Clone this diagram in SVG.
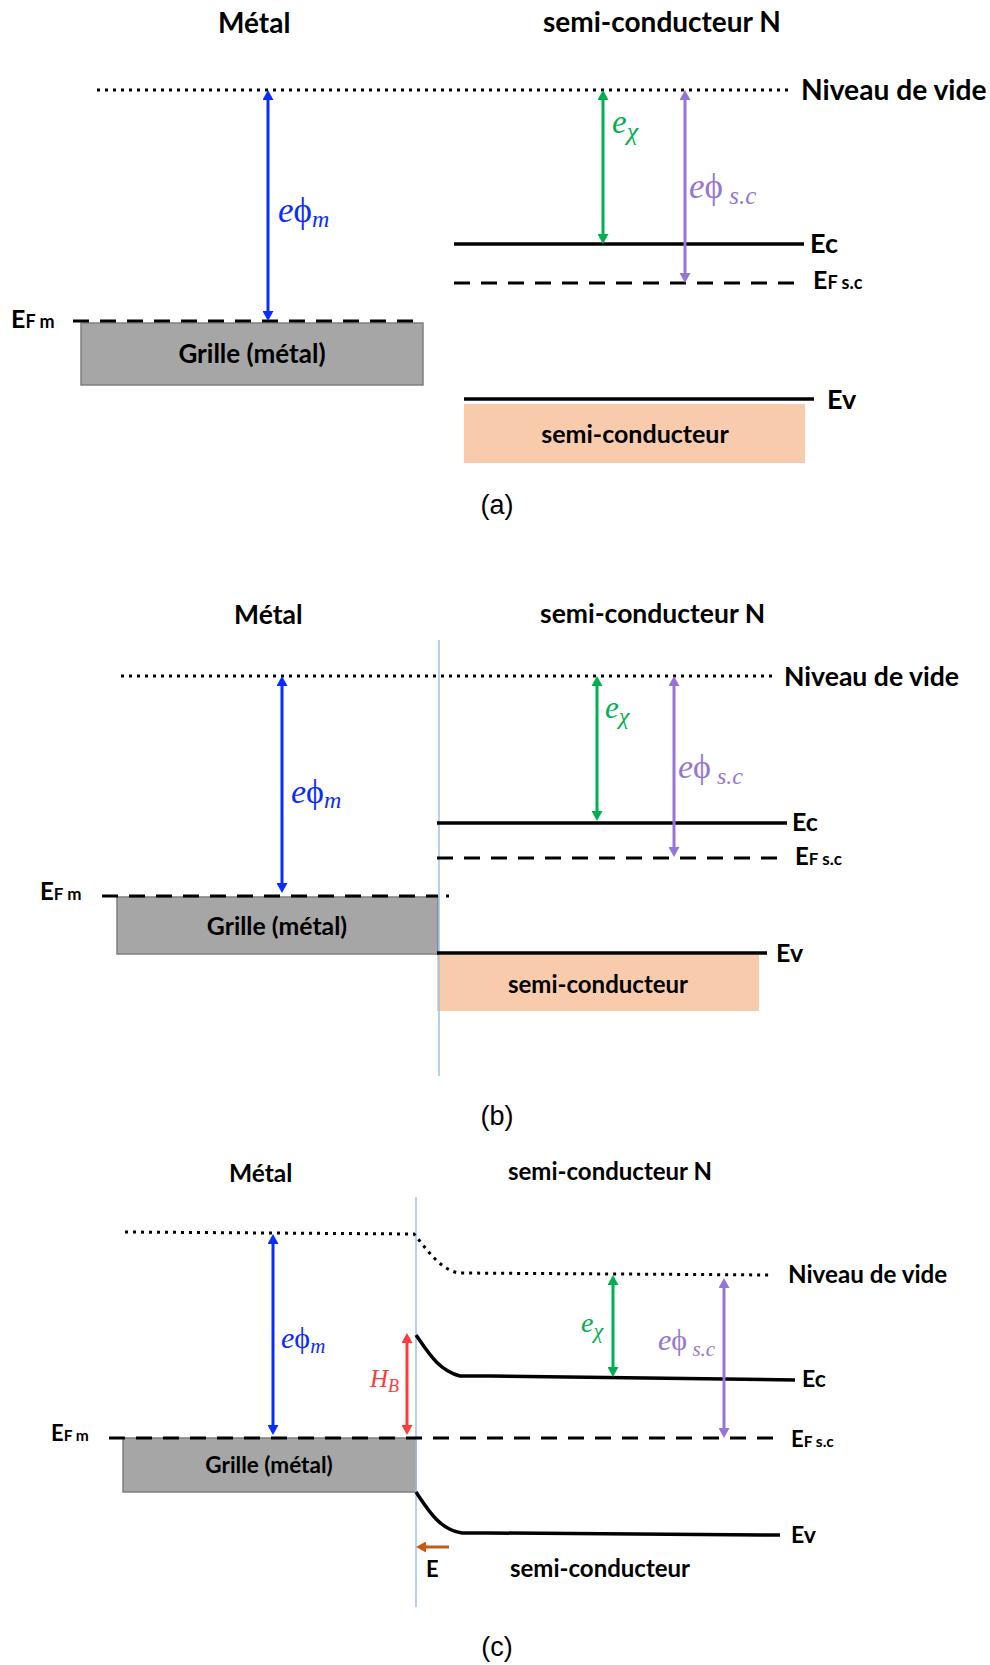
<svg xmlns="http://www.w3.org/2000/svg" width="990" height="1665" viewBox="0 0 990 1665">
<style>
.t{font-family:Lato,'Liberation Sans',sans-serif;font-weight:bold;fill:#000}
.m{font-family:'Liberation Serif','DejaVu Serif',serif;font-style:italic}
.u{font-style:normal}
.cap{font-family:'Liberation Sans',Arial,sans-serif;font-size:27px;fill:#000}
.dot{stroke:#000;stroke-width:3;stroke-dasharray:3 5;fill:none}
.dash{stroke:#000;stroke-width:3;stroke-dasharray:16 11;fill:none}
.band{stroke:#000;stroke-width:3.5;fill:none}
.iface{stroke:#9DC3E6;stroke-width:1.5}
.metal{fill:#A6A6A6;stroke:#7F7F7F;stroke-width:1.5}
.sc{fill:#F8CBAD}
.ab{stroke:#0A2CFF;stroke-width:3;marker-start:url(#mB);marker-end:url(#mB)}
.ag{stroke:#00B050;stroke-width:3;marker-start:url(#mG);marker-end:url(#mG)}
.ap{stroke:#9775D6;stroke-width:3;marker-start:url(#mP);marker-end:url(#mP)}
.ar{stroke:#FF3B3B;stroke-width:3;marker-start:url(#mR);marker-end:url(#mR)}
.ao{stroke:#C55A11;stroke-width:3;marker-end:url(#mO)}
</style>
<defs>
<marker id="mB" viewBox="0 0 10 10" refX="2" refY="5" markerWidth="10" markerHeight="11" markerUnits="userSpaceOnUse" orient="auto-start-reverse" preserveAspectRatio="none"><path d="M0,0 L10,5 L0,10 z" fill="#0A2CFF"/></marker>
<marker id="mG" viewBox="0 0 10 10" refX="2" refY="5" markerWidth="10" markerHeight="11" markerUnits="userSpaceOnUse" orient="auto-start-reverse" preserveAspectRatio="none"><path d="M0,0 L10,5 L0,10 z" fill="#00B050"/></marker>
<marker id="mP" viewBox="0 0 10 10" refX="2" refY="5" markerWidth="10" markerHeight="11" markerUnits="userSpaceOnUse" orient="auto-start-reverse" preserveAspectRatio="none"><path d="M0,0 L10,5 L0,10 z" fill="#9775D6"/></marker>
<marker id="mR" viewBox="0 0 10 10" refX="2" refY="5" markerWidth="10" markerHeight="11" markerUnits="userSpaceOnUse" orient="auto-start-reverse" preserveAspectRatio="none"><path d="M0,0 L10,5 L0,10 z" fill="#FF3B3B"/></marker>
<marker id="mO" viewBox="0 0 10 10" refX="2" refY="5" markerWidth="10" markerHeight="11" markerUnits="userSpaceOnUse" orient="auto" preserveAspectRatio="none"><path d="M0,0 L10,5 L0,10 z" fill="#C55A11"/></marker>
</defs>
<rect width="990" height="1665" fill="#fff"/>

<!-- ================= Panel (a) ================= -->
<g id="panel-a">
  <g id="a-titles">
    <text class="t" x="218" y="33" font-size="28">Métal</text>
    <text class="t" x="543" y="32" font-size="28">semi-conducteur N</text>
  </g>
  <g id="a-metal">
    <rect class="metal" x="81" y="323" width="342" height="62"/>
    <text class="t" x="252" y="363" font-size="26" text-anchor="middle">Grille (métal)</text>
  </g>
  <g id="a-semi">
    <rect class="sc" x="464" y="404" width="341" height="59"/>
    <text class="t" x="635" y="443" font-size="25" text-anchor="middle">semi-conducteur</text>
  </g>
  <g id="a-levels">
    <path class="dot" d="M97,90 H791"/>
    <path class="dash" d="M73,321 H423"/>
    <path class="band" d="M454,244 H804"/>
    <path class="dash" d="M454,283 H804"/>
    <path class="band" d="M464,399 H814"/>
  </g>
  <g id="a-level-labels">
    <text class="t" x="801" y="100" font-size="28.2">Niveau de vide</text>
    <text class="t" x="11" y="328"><tspan font-size="25">E</tspan><tspan font-size="18">F m</tspan></text>
    <text class="t" x="810" y="253" font-size="27">Ec</text>
    <text class="t" x="813" y="289"><tspan font-size="25">E</tspan><tspan font-size="18">F s.c</tspan></text>
    <text class="t" x="827" y="409" font-size="27">Ev</text>
  </g>
  <g id="a-arrows">
    <line class="ab" x1="268" y1="98" x2="268" y2="313"/>
    <line class="ag" x1="603" y1="98" x2="603" y2="236"/>
    <line class="ap" x1="685" y1="98" x2="685" y2="275"/>
  </g>
  <g id="a-arrow-labels">
    <text class="m" x="278" y="222" font-size="35" fill="#0A2CFF">e<tspan class="u">ϕ</tspan><tspan font-size="24" dy="5">m</tspan></text>
    <text class="m" x="612" y="133" font-size="33" fill="#00B050">e<tspan font-size="26" dy="7">χ</tspan></text>
    <text class="m" x="689" y="198" font-size="35" fill="#9775D6">e<tspan class="u">ϕ</tspan><tspan font-size="25" dy="6"> s.c</tspan></text>
  </g>
  <text class="cap" x="497" y="514" text-anchor="middle">(a)</text>
</g>

<!-- ================= Panel (b) ================= -->
<g id="panel-b">
  <g id="b-titles">
    <text class="t" x="234" y="624" font-size="26.5">Métal</text>
    <text class="t" x="540" y="623" font-size="26.5">semi-conducteur N</text>
  </g>
  <g id="b-metal">
    <rect class="metal" x="117" y="897" width="321" height="57"/>
    <text class="t" x="277" y="935" font-size="24.8" text-anchor="middle">Grille (métal)</text>
  </g>
  <g id="b-semi">
    <rect class="sc" x="437" y="955" width="322" height="56"/>
    <text class="t" x="598" y="993" font-size="24" text-anchor="middle">semi-conducteur</text>
  </g>
  <line class="iface" x1="439" y1="640" x2="439" y2="1076"/>
  <g id="b-levels">
    <path class="dot" d="M121,676 H777"/>
    <path class="dash" d="M102,896 H438 M446,896 H449"/>
    <path class="band" d="M437,823 H787"/>
    <path class="dash" d="M437,858 H785"/>
    <path class="band" d="M437,953 H767"/>
  </g>
  <g id="b-level-labels">
    <text class="t" x="784" y="686" font-size="26.6">Niveau de vide</text>
    <text class="t" x="40" y="900"><tspan font-size="24">E</tspan><tspan font-size="17">F m</tspan></text>
    <text class="t" x="792" y="831" font-size="25">Ec</text>
    <text class="t" x="795" y="865"><tspan font-size="24">E</tspan><tspan font-size="17">F s.c</tspan></text>
    <text class="t" x="776" y="962" font-size="25">Ev</text>
  </g>
  <g id="b-arrows">
    <line class="ab" x1="282" y1="684" x2="282" y2="885"/>
    <line class="ag" x1="597" y1="684" x2="597" y2="813"/>
    <line class="ap" x1="674" y1="684" x2="674" y2="849"/>
  </g>
  <g id="b-arrow-labels">
    <text class="m" x="291" y="803" font-size="34" fill="#0A2CFF">e<tspan class="u">ϕ</tspan><tspan font-size="24" dy="5">m</tspan></text>
    <text class="m" x="605" y="718" font-size="31" fill="#00B050">e<tspan font-size="24" dy="6">χ</tspan></text>
    <text class="m" x="678" y="778" font-size="34" fill="#9775D6">e<tspan class="u">ϕ</tspan><tspan font-size="24" dy="6"> s.c</tspan></text>
  </g>
  <text class="cap" x="497" y="1125" text-anchor="middle">(b)</text>
</g>

<!-- ================= Panel (c) ================= -->
<g id="panel-c">
  <g id="c-titles">
    <text class="t" x="229" y="1182" font-size="24.5">Métal</text>
    <text class="t" x="508" y="1180" font-size="24">semi-conducteur N</text>
  </g>
  <g id="c-metal">
    <rect class="metal" x="123" y="1438" width="293" height="54"/>
    <text class="t" x="269" y="1473" font-size="22.5" text-anchor="middle">Grille (métal)</text>
  </g>
  <line class="iface" x1="416" y1="1197" x2="416" y2="1607"/>
  <g id="c-levels">
    <path class="dot" d="M125,1232 L414,1234 C426,1248 438,1268 458,1273 L771,1275"/>
    <path class="dash" d="M109,1438 H784"/>
    <path class="band" d="M416,1335 C428,1352 438,1370 460,1376 L490,1376 L795,1380"/>
    <path class="band" d="M416,1492 C428,1510 440,1530 462,1533 L490,1533 L780,1535"/>
  </g>
  <g id="c-level-labels">
    <text class="t" x="788" y="1283" font-size="24.2">Niveau de vide</text>
    <text class="t" x="51" y="1441"><tspan font-size="22">E</tspan><tspan font-size="15.5">F m</tspan></text>
    <text class="t" x="802" y="1387" font-size="23">Ec</text>
    <text class="t" x="791" y="1447"><tspan font-size="22">E</tspan><tspan font-size="15.5">F s.c</tspan></text>
    <text class="t" x="791" y="1543" font-size="23">Ev</text>
    <text class="t" x="510" y="1577" font-size="24">semi-conducteur</text>
  </g>
  <g id="c-arrows">
    <line class="ab" x1="273" y1="1242" x2="273" y2="1427"/>
    <line class="ar" x1="407" y1="1341" x2="407" y2="1427"/>
    <line class="ag" x1="613" y1="1283" x2="613" y2="1369"/>
    <line class="ap" x1="724" y1="1286" x2="724" y2="1430"/>
    <line class="ao" x1="449" y1="1547" x2="424" y2="1547"/>
  </g>
  <g id="c-arrow-labels">
    <text class="m" x="281" y="1348" font-size="30" fill="#0A2CFF">e<tspan class="u">ϕ</tspan><tspan font-size="21" dy="5">m</tspan></text>
    <text class="m" x="370" y="1387" font-size="25" fill="#FF3B3B">H<tspan font-size="18" dy="5">B</tspan></text>
    <text class="m" x="581" y="1332" font-size="28" fill="#00B050">e<tspan font-size="22" dy="6">χ</tspan></text>
    <text class="m" x="658" y="1350" font-size="30" fill="#9775D6">e<tspan class="u">ϕ</tspan><tspan font-size="21" dy="6"> s.c</tspan></text>
    <text class="t" x="426" y="1577" font-size="22" fill="#C55A11">E</text>
  </g>
  <text class="cap" x="497" y="1656" font-size="26" text-anchor="middle">(c)</text>
</g>
</svg>
